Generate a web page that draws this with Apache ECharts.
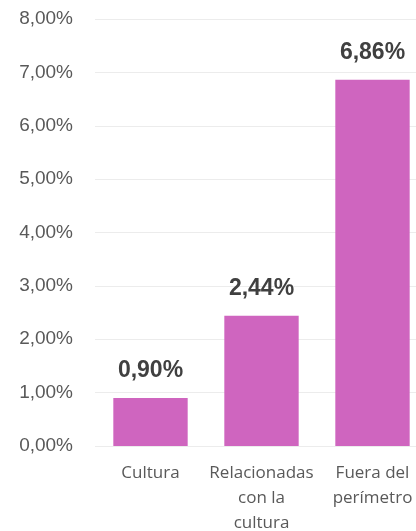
<!DOCTYPE html>
<html>
<head>
<meta charset="utf-8">
<script src="https://cdn.jsdelivr.net/npm/echarts@6/dist/echarts.min.js"></script>
<style>
  html, body { margin: 0; padding: 0; background: #fff; }
  #chart { width: 416px; height: 531px; }
</style>
</head>
<body>
<div id="chart"></div>
<script>
// Share of each group (percent)
const categories = ['Cultura', 'Relacionadas\ncon la\ncultura', 'Fuera del\nperímetro'];
const values = [0.90, 2.44, 6.86];
const yMin = 0, yMax = 8, yStep = 1;

const fmt = v => v.toFixed(2).replace('.', ',') + '%';

const chart = echarts.init(document.getElementById('chart'), null, { renderer: 'canvas' });
chart.setOption({
  animation: false,
  grid: { left: 95, top: 19, right: -12, bottom: 85, containLabel: false, outerBoundsMode: 'none' },
  xAxis: {
    type: 'category',
    data: categories,
    axisLine: { show: false },
    axisTick: { show: false },
    axisLabel: {
      color: '#595959',
      fontFamily: 'Open Sans',
      fontSize: 17,
      lineHeight: 25,
      margin: 15,
      interval: 0
    }
  },
  yAxis: {
    type: 'value',
    min: yMin, max: yMax, interval: yStep,
    axisLine: { show: false },
    axisTick: { show: false },
    splitLine: { lineStyle: { color: '#ececec', width: 1 } },
    axisLabel: {
      color: '#595959',
      fontFamily: 'Liberation Sans',
      fontSize: 19,
      margin: 22,
      formatter: v => fmt(v)
    }
  },
  series: [{
    type: 'bar',
    data: values,
    barWidth: '67%',
    itemStyle: { color: '#CF65BF' },
    label: {
      show: true,
      position: 'top',
      distance: 16,
      color: '#404040',
      fontFamily: 'Liberation Sans',
      fontWeight: 'bold',
      fontSize: 23,
      formatter: p => fmt(p.value)
    }
  }]
});
</script>
</body>
</html>
